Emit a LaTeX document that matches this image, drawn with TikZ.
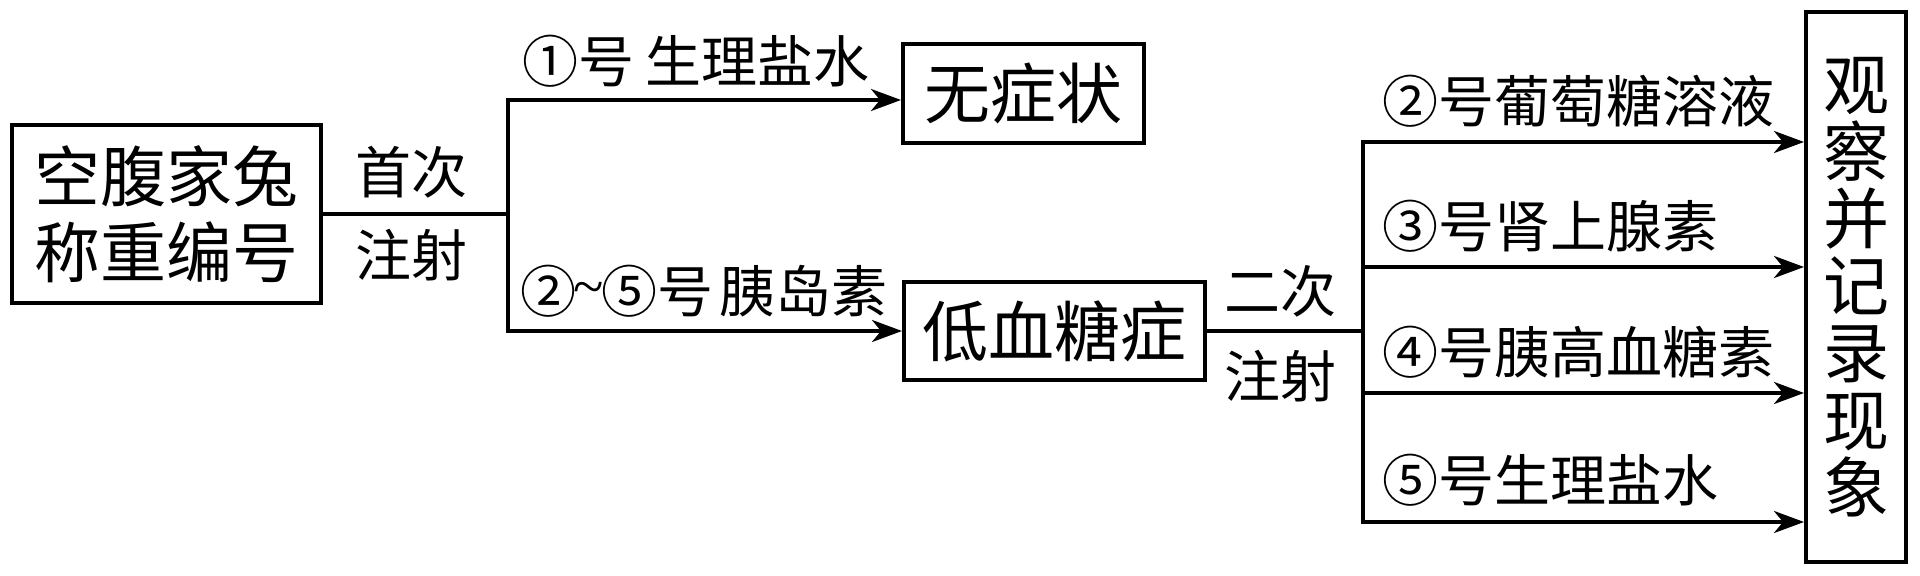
\documentclass[tikz,border=0pt]{standalone}
\usepackage{fontspec}
\setmainfont{Noto Sans CJK SC}
\newfontfamily\latinser{Liberation Serif}
\usetikzlibrary{arrows.meta}
\newcommand{\boxfont}{\fontsize{33}{38}\selectfont}
\newcommand{\vboxfont}{\fontsize{33}{33.6}\selectfont}
\newcommand{\labfont}{\fontsize{28}{30}\selectfont}
\newcommand{\tld}{{\latinser\kern-0.05em\raisebox{0.12em}{\textasciitilde}\kern-0.05em}}
\begin{document}
\begin{tikzpicture}[x=0.5pt,y=-0.5pt,
  boxnode/.style={draw, line width=2pt, inner sep=0pt, align=center, font=\boxfont},
  labnode/.style={inner sep=0pt, anchor=west, font=\labfont},
  midlab/.style={inner sep=0pt, font=\labfont},
  conn/.style={line width=2pt, line cap=rect},
  arr/.style={line width=2pt, -{Stealth[length=15pt,width=11pt,inset=4.5pt]}}]
\useasboundingbox (0,0) rectangle (1920,576);
% boxes
\node[boxnode, minimum width=154.5pt, minimum height=89pt] (A) at (166.5,214) {空腹家兔\\称重编号};
\node[boxnode, minimum width=120.5pt, minimum height=49.5pt] (B) at (1023.5,93.5) {无症状};
\node[boxnode, minimum width=150.5pt, minimum height=49pt] (C) at (1054.5,331) {低血糖症};
\node[boxnode, minimum width=50pt, minimum height=275pt, font=\vboxfont] (D) at (1856,287) {观\\察\\并\\记\\录\\现\\象};
% first junction
\coordinate (j1) at (508,214);
\coordinate (j1t) at (508,100);
\coordinate (j1b) at (508,331);
\draw[conn] (A.east) -- (j1);
\draw[conn] (j1t) -- (j1b);
\draw[arr] (j1t) -- (j1t -| B.west);
\draw[arr] (j1b) -- (j1b -| C.west);
% second junction
\coordinate (j2) at (1363,331);
\coordinate (k1) at (1363,142);
\coordinate (k2) at (1363,267);
\coordinate (k3) at (1363,393);
\coordinate (k4) at (1363,522);
\draw[conn] (C.east) -- (j2);
\draw[conn] (k1) -- (k4);
\draw[arr] (k1) -- (k1 -| D.west);
\draw[arr] (k2) -- (k2 -| D.west);
\draw[arr] (k3) -- (k3 -| D.west);
\draw[arr] (k4) -- (k4 -| D.west);
% labels
\node[midlab] (s1) at (411,172) {首次};
\node[midlab] (s2) at (411,255) {注射};
\node[midlab] (s3) at (1280,291) {二次};
\node[midlab] (s4) at (1280,376) {注射};
\node[labnode] (l1) at (522,61) {①号\hspace{0.2em}生理盐水};
\node[labnode] (l2) at (520,291) {②\tld⑤号\hspace{0.12em}胰岛素};
\node[labnode] (r1) at (1382,101) {②号葡萄糖溶液};
\node[labnode] (r2) at (1382,226) {③号肾上腺素};
\node[labnode] (r3) at (1382,352) {④号胰高血糖素};
\node[labnode] (r4) at (1382,480) {⑤号生理盐水};
\end{tikzpicture}
\end{document}
